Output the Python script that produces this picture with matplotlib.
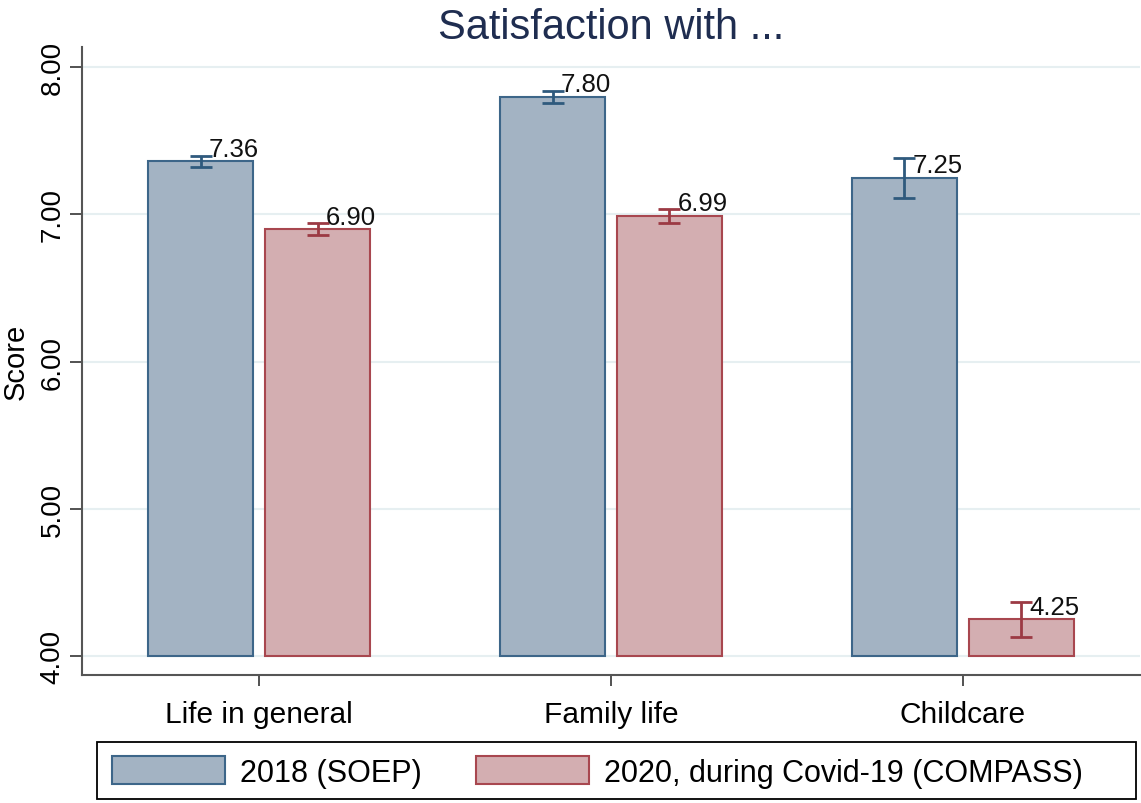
import matplotlib.pyplot as plt
import numpy as np
from matplotlib.patches import Patch, Rectangle

categories = ["Life in general", "Family life", "Childcare"]
soep_2018 = [7.36, 7.80, 7.25]
soep_err = [0.037, 0.04, 0.135]
compass_2020 = [6.90, 6.99, 4.25]
compass_err = [0.04, 0.045, 0.12]
series_names = ["2018 (SOEP)", "2020, during Covid-19 (COMPASS)"]
yticks = [4, 5, 6, 7, 8]

plt.rcParams["font.family"] = ["Liberation Sans", "DejaVu Sans"]

blue_fill, blue_edge, blue_err = "#a3b3c3", "#3d6689", "#2f5a7d"
red_fill, red_edge, red_err = "#d3aeb1", "#a8474f", "#9c3a44"

W, H = 1141, 804
fig = plt.figure(figsize=(W / 100, H / 100), dpi=100)
ax = fig.add_axes([0.072, 0.159, 0.927, 0.781])

x = np.arange(len(categories))
off, w = 0.166, 0.298
base = 4.0

ax.bar(x - off, np.array(soep_2018) - base, w, bottom=base, color=blue_fill,
       edgecolor=blue_edge, linewidth=1.5, zorder=2)
ax.bar(x + off, np.array(compass_2020) - base, w, bottom=base, color=red_fill,
       edgecolor=red_edge, linewidth=1.5, zorder=2)
ax.errorbar(x - off, soep_2018, yerr=soep_err, fmt="none", ecolor=blue_err,
            elinewidth=2, capsize=8, capthick=2, zorder=3)
ax.errorbar(x + off, compass_2020, yerr=compass_err, fmt="none", ecolor=red_err,
            elinewidth=2, capsize=8, capthick=2, zorder=3)

for xs, vals in ((x - off, soep_2018), (x + off, compass_2020)):
    for xi, v in zip(xs, vals):
        ax.annotate(f"{v:.2f}", (xi, v), xytext=(6, 4), textcoords="offset points",
                    ha="left", va="baseline", fontsize=18.5, color="#111111", zorder=4)

ax.set_xlim(-0.503, 2.503)
ax.set_ylim(3.87, 8.136)
ax.set_yticks(yticks)
ax.set_yticklabels([f"{t:.2f}" for t in yticks], rotation=90, va="center", fontsize=20)
ax.set_xticks(x)
ax.set_xticklabels(categories, fontsize=21.5)
ax.tick_params(axis="y", length=9, width=1.3, color="#444444", pad=3)
ax.tick_params(axis="x", length=8, width=1.3, color="#444444", pad=10)
ax.grid(axis="y", color="#e6eff1", linewidth=1.5, zorder=0)
ax.set_axisbelow(True)
for s in ("top", "right"):
    ax.spines[s].set_visible(False)
for s in ("left", "bottom"):
    ax.spines[s].set_color("#555555")
    ax.spines[s].set_linewidth(1.5)

ax.set_ylabel("Score", fontsize=21, labelpad=7)
ax.set_title("Satisfaction with ...", fontsize=30, color="#1f2d50", pad=6)

# legend box, drawn separately so its right margin can be wider than Stata's left one
fig.patches.append(Rectangle((97 / W, 1 - 800 / H), (1136 - 97) / W, (800 - 743) / H,
                             transform=fig.transFigure, facecolor="white",
                             edgecolor="black", linewidth=1.3, zorder=0))
handles = [Patch(facecolor=blue_fill, edgecolor=blue_edge, linewidth=1.5),
           Patch(facecolor=red_fill, edgecolor=red_edge, linewidth=1.5)]
fig.legend(handles, series_names, loc="center left", bbox_to_anchor=(112 / W, 1 - 773 / H),
           ncol=2, fontsize=22, frameon=False,
           handlelength=3.7, handleheight=1.0, handletextpad=0.5,
           columnspacing=1.75, borderpad=0, borderaxespad=0)

fig.savefig("out.png", dpi=100)
plt.close(fig)
